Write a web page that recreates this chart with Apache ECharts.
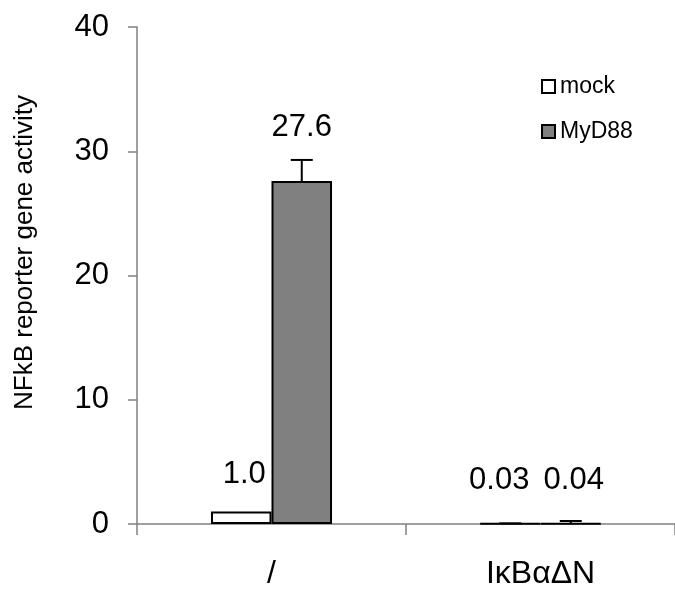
<!DOCTYPE html>
<html>
<head>
<meta charset="utf-8">
<script src="https://cdn.jsdelivr.net/npm/echarts@6/dist/echarts.min.js"></script>
<style>
  html, body { margin: 0; padding: 0; background: #fff; }
  #chart { width: 675px; height: 593px; }
</style>
</head>
<body>
<div id="chart"></div>
<script>
// Reporter assay: NF-kB activity with and without the IkBa super-repressor
const categories = ['/', 'IκBαΔN'];
const seriesNames = ['mock', 'MyD88'];
const mockValues = [1.0, 0.03];
const myd88Values = [27.6, 0.04];
const mockErrors = [null, 0.02];
const myd88Errors = [1.7, 0.2];
const valueLabels = [['1.0', '0.03'], ['27.6', '0.04']];
const yTicks = [0, 10, 20, 30, 40];

const FONT = 'Liberation Sans, Arial, sans-serif';
// label placement per bar: gap above the bar and sideways nudge
const labelGap = [[22, 27], [38, 27]];
const labelNudge = [[3, -11], [0, 3]];

const chart = echarts.init(document.getElementById('chart'), null, { renderer: 'canvas' });

function barData(values, s) {
  return values.map((v, i) => ({
    value: v,
    label: { distance: labelGap[s][i], offset: [labelNudge[s][i], 0], formatter: valueLabels[s][i] }
  }));
}

// Upward-only error whisker with a short cap, placed over the bar of a series
function errorSeries(values, errors, seriesIndex) {
  return {
    type: 'custom',
    name: seriesNames[seriesIndex] + ' error',
    z: 5,
    silent: true,
    data: values.map((v, i) => errors[i] == null ? [i, v, null] : [i, v, v + errors[i]]),
    renderItem: function (params, api) {
      if (isNaN(api.value(2))) return null;
      const cat = api.value(0);
      const base = api.coord([cat, api.value(1)]);
      const top = api.coord([cat, api.value(2)]);
      const bandW = api.size([1, 0])[0];
      const barW = bandW * 0.225;
      const x = base[0] + (seriesIndex === 0 ? -barW / 2 : barW / 2);
      const capHalf = 11;
      const style = { stroke: '#000', lineWidth: 2 };
      return {
        type: 'group',
        children: [
          { type: 'line', shape: { x1: x, y1: base[1], x2: x, y2: top[1] }, style: style },
          { type: 'line', shape: { x1: x - capHalf, y1: top[1], x2: x + capHalf, y2: top[1] }, style: style }
        ]
      };
    }
  };
}

const option = {
  backgroundColor: '#ffffff',
  animation: false,
  textStyle: { fontFamily: FONT, color: '#000' },
  legend: {
    orient: 'vertical',
    left: 536,
    top: 70,
    itemWidth: 13,
    itemHeight: 13,
    itemGap: 22,
    icon: 'rect',
    textStyle: { fontFamily: FONT, fontSize: 23, color: '#000' },
    data: seriesNames
  },
  grid: { left: 137, width: 546, top: 27, height: 497, containLabel: false },
  xAxis: {
    type: 'category',
    data: categories,
    axisLine: { lineStyle: { color: '#808080', width: 1.5 } },
    axisTick: { show: true, alignWithLabel: false, length: 11, lineStyle: { color: '#808080', width: 1.5 } },
    axisLabel: { fontFamily: FONT, fontSize: 32, color: '#000', margin: 34 }
  },
  yAxis: {
    type: 'value',
    min: 0,
    max: 40,
    interval: 10,
    name: 'NFkB reporter gene activity',
    nameLocation: 'middle',
    nameGap: 99,
    nameRotate: 90,
    nameTextStyle: { fontFamily: FONT, fontSize: 26, color: '#000', padding: [0, 0, 0, 46] },
    axisLine: { show: true, lineStyle: { color: '#808080', width: 1.5 } },
    axisTick: { show: true, inside: false, length: 9, lineStyle: { color: '#808080', width: 1.5 } },
    splitLine: { show: false },
    axisLabel: {
      fontFamily: FONT, fontSize: 31, color: '#000', margin: 28,
      formatter: function (v) { return yTicks.indexOf(v) >= 0 ? String(v) : ''; }
    }
  },
  series: [
    {
      type: 'bar',
      name: seriesNames[0],
      data: barData(mockValues, 0),
      barGap: '0%',
      barCategoryGap: '55%',
      itemStyle: { color: '#ffffff', borderColor: '#000', borderWidth: 2 },
      label: { show: true, position: 'top', fontFamily: FONT, fontSize: 31, color: '#000' }
    },
    {
      type: 'bar',
      name: seriesNames[1],
      data: barData(myd88Values, 1),
      barGap: '0%',
      barCategoryGap: '55%',
      itemStyle: { color: '#808080', borderColor: '#000', borderWidth: 2 },
      label: { show: true, position: 'top', fontFamily: FONT, fontSize: 31, color: '#000' }
    },
    errorSeries(mockValues, mockErrors, 0),
    errorSeries(myd88Values, myd88Errors, 1)
  ]
};

chart.setOption(option);
</script>
</body>
</html>
